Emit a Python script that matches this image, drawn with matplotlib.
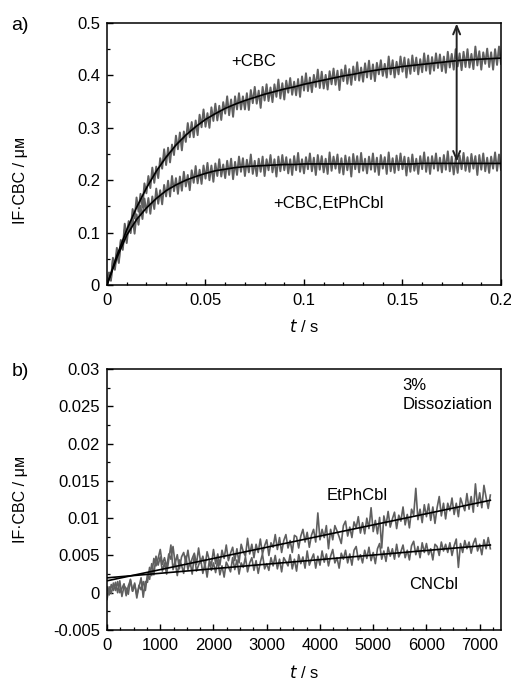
import numpy as np
import matplotlib
matplotlib.use("Agg")
import matplotlib.pyplot as plt
from matplotlib.ticker import MultipleLocator

plt.rcParams['font.family'] = ['Liberation Sans', 'DejaVu Sans']

# ---------------- panel a: stopped-flow traces (units of 1e-3 uM) ----------------
# sampled every 1 ms from 0 to 0.2 s
cbc_trace = [
    0, 23, 8, 52, 36, 71, 46, 86, 72, 117, 94, 122, 105, 145, 127, 167, 140, 174, 148, 194,
    175, 208, 185, 224, 195, 226, 204, 242, 222, 259, 229, 262, 234, 268, 248, 285, 259, 291, 257, 293,
    273, 309, 282, 311, 282, 314, 286, 325, 301, 335, 302, 328, 300, 339, 313, 346, 314, 342, 315, 349,
    327, 360, 324, 354, 321, 360, 335, 366, 335, 360, 335, 366, 334, 372, 347, 378, 346, 371, 338, 378,
    352, 383, 351, 377, 349, 383, 359, 392, 356, 385, 354, 390, 367, 395, 363, 388, 362, 393, 359, 398,
    371, 404, 370, 396, 368, 401, 378, 411, 376, 407, 375, 401, 373, 408, 383, 413, 382, 409, 372, 411,
    389, 419, 384, 412, 382, 417, 391, 425, 390, 415, 388, 423, 396, 428, 393, 421, 389, 424, 402, 429,
    399, 422, 396, 436, 402, 429, 396, 426, 402, 436, 407, 434, 396, 431, 403, 438, 408, 434, 402, 431,
    406, 442, 409, 438, 403, 435, 409, 442, 414, 440, 408, 436, 405, 445, 415, 441, 411, 450, 417, 442,
    410, 445, 416, 450, 415, 441, 412, 455, 419, 446, 411, 444, 422, 451, 416, 444, 411, 450, 420, 455,
    422]
etph_trace = [
    0, 24, 11, 47, 29, 61, 42, 83, 67, 106, 80, 113, 99, 131, 98, 135, 115, 151, 126, 165,
    138, 166, 136, 169, 145, 184, 155, 181, 154, 191, 169, 199, 169, 208, 179, 204, 174, 207, 180, 216,
    188, 210, 181, 219, 195, 227, 194, 220, 193, 228, 203, 233, 200, 228, 197, 232, 208, 240, 207, 230,
    204, 237, 210, 241, 202, 235, 210, 245, 216, 242, 208, 239, 215, 249, 212, 237, 208, 241, 216, 245,
    208, 240, 219, 248, 215, 240, 207, 245, 217, 248, 219, 244, 213, 240, 210, 246, 219, 252, 216, 240,
    213, 244, 221, 251, 217, 243, 210, 248, 220, 246, 215, 241, 212, 253, 218, 245, 222, 249, 214, 242,
    211, 247, 219, 244, 207, 250, 221, 246, 215, 252, 218, 241, 213, 245, 220, 251, 216, 243, 210, 248,
    222, 244, 212, 253, 217, 242, 214, 247, 219, 251, 221, 245, 209, 243, 216, 249, 218, 241, 212, 246,
    221, 253, 216, 244, 212, 246, 222, 251, 218, 243, 215, 248, 220, 255, 217, 245, 211, 242, 214, 247,
    221, 252, 218, 244, 216, 250, 222, 246, 210, 248, 220, 251, 217, 243, 214, 245, 222, 253, 218, 249,
    220]
# fitted curves, every 5 ms
cbc_fit = [0, 56, 105, 148, 185, 217, 244, 267, 286, 302, 316, 327, 337, 345, 352, 358, 364, 369, 374, 378,
           383, 387, 391, 395, 399, 402, 406, 409, 412, 414, 417, 419, 421, 423, 425, 427, 429, 430, 431, 432, 433]
etph_fit = [0, 52, 95, 125, 147, 165, 180, 191, 200, 207, 213, 218, 221, 224, 226, 227, 228, 229, 230, 230,
            231, 231, 231, 231, 231, 231, 231, 231, 231, 231, 231, 231, 232, 232, 232, 232, 232, 232, 232, 232, 232]

# ---------------- panel b: slow dissociation (units of 1e-4 uM, every 40 s) ----------------
etphcbl_b = [
    -9, 8, -1, 13, 3, 15, 0, 6, 12, -4, 9, 17, 2, 11, -3, 7, 20, -6,
    15, 14, 34, 23, 46, 36, 46,
    58, 38, 47, 34, 52, 45, 62, 39, 51, 32, 48, 54, 41, 57, 36, 46, 53, 38, 60, 40, 49, 35, 55, 44, 37,
    58, 39, 52, 37, 57, 46, 64, 43, 53, 61, 43, 59, 40, 65, 55, 49, 73, 52, 65, 47,
    65, 54, 72, 52, 63, 71, 50, 67, 61, 78, 58, 74, 54, 70, 78, 60, 70, 54, 77, 75,
    60, 76, 85, 68, 81, 61, 77, 85, 68, 107, 71, 85, 74, 90, 59, 85, 71, 90, 83, 75,
    66, 90, 96, 76, 88, 74, 95, 87, 102, 80, 94, 79, 100, 86, 114, 82, 97, 79, 101, 60,
    103, 90, 109, 88, 99, 108, 86, 104, 96, 115, 91, 105, 87, 112, 104, 140, 98, 112, 94, 118,
    102, 119, 97, 115, 93, 114, 129, 103, 120, 99, 120, 110, 127, 105, 120, 102, 127, 118, 110, 133,
    112, 129, 108, 146, 116, 134, 114, 144, 128, 113, 131]
cncbl_b = [
    8, -3, 11, 3, 14, 0, 16, -5, 9, 6, -2, 18, 2, 13, -7, 10, 4, 15,
    3, 25, 18, 39, 24, 49, 37,
    48, 29, 40, 25, 45, 64, 31, 42, 23, 44, 37, 26, 49, 31, 42, 25, 51, 29, 37, 45, 26, 39, 21, 42, 30,
    40, 27, 44, 24, 36, 21, 41, 35, 28, 47, 31, 44, 25, 40, 34, 48, 28, 40, 47, 30,
    43, 26, 41, 52, 32, 39, 30, 47, 36, 50, 32, 45, 28, 47, 42, 36, 51, 32, 45, 29,
    51, 39, 48, 33, 56, 37, 45, 52, 33, 49, 37, 56, 41, 52, 36, 49, 58, 40, 47, 33,
    53, 45, 57, 40, 52, 37, 57, 62, 44, 51, 40, 57, 46, 61, 43, 54, 39, 59, 66, 45,
    56, 42, 61, 49, 59, 45, 65, 48, 55, 64, 47, 57, 44, 63, 69, 51, 62, 47, 67, 54,
    66, 51, 59, 44, 65, 62, 50, 68, 56, 65, 54, 67, 50, 63, 72, 34, 66, 54, 70, 59,
    68, 53, 66, 73, 56, 65, 51, 71, 59, 74, 59]
fit_t_b = [0, 3600, 7200]
etphcbl_fit_b = [0.0016, 0.0070, 0.0124]
cncbl_fit_b = [0.0020, 0.0042, 0.0064]

xticks_a = [0, 0.05, 0.1, 0.15, 0.2]
xlabels_a = ['0', '0.05', '0.1', '0.15', '0.2']
yticks_a = [0, 0.1, 0.2, 0.3, 0.4, 0.5]
ylabels_a = ['0', '0.1', '0.2', '0.3', '0.4', '0.5']
xticks_b = [0, 1000, 2000, 3000, 4000, 5000, 6000, 7000]
xlabels_b = ['0', '1000', '2000', '3000', '4000', '5000', '6000', '7000']
yticks_b = [-0.005, 0, 0.005, 0.01, 0.015, 0.02, 0.025, 0.03]
ylabels_b = ['-0.005', '0', '0.005', '0.01', '0.015', '0.02', '0.025', '0.03']

TRACE = '#5f5f5f'
FS = 12

fig = plt.figure(figsize=(5.11, 6.84), dpi=100)
ax1 = fig.add_axes([0.2094, 0.5833, 0.7710, 0.3831])
ax2 = fig.add_axes([0.2094, 0.0789, 0.7710, 0.3816])

# --- a) ---
t_a = np.arange(len(cbc_trace)) * 0.001
tf_a = np.arange(len(cbc_fit)) * 0.005
ax1.plot(t_a, np.array(cbc_trace) / 1000, color=TRACE, lw=1.4)
ax1.plot(t_a, np.array(etph_trace) / 1000, color=TRACE, lw=1.4)
ax1.plot(tf_a, np.array(cbc_fit) / 1000, color='black', lw=1.2)
ax1.plot(tf_a, np.array(etph_fit) / 1000, color='black', lw=1.2)
ax1.annotate('', xy=(0.1775, 0.499), xytext=(0.1775, 0.235),
             arrowprops=dict(arrowstyle='<->,head_length=0.6,head_width=0.25',
                             color='#222222', lw=1.4, shrinkA=0, shrinkB=0))
ax1.text(0.0746, 0.4256, '+CBC', fontsize=FS, ha='center', va='center')
ax1.text(0.1122, 0.156, '+CBC,EtPhCbl', fontsize=FS, ha='center', va='center')
ax1.set_xlim(0, 0.2)
ax1.set_ylim(0, 0.5)
ax1.set_xticks(xticks_a, xlabels_a)
ax1.set_yticks(yticks_a, ylabels_a)
ax1.xaxis.set_minor_locator(MultipleLocator(0.01))
ax1.yaxis.set_minor_locator(MultipleLocator(0.05))
ax1.set_xlabel(r'$t$ / s', fontsize=FS)
ax1.set_ylabel('IF·CBC / μᴍ', fontsize=11.5)
ax1.xaxis.set_label_coords(0.5, -0.125)
ax1.yaxis.set_label_coords(-0.20, 0.40)

# --- b) ---
t_b = np.arange(len(etphcbl_b)) * 40
ax2.plot(t_b, np.array(etphcbl_b) * 1e-4, color=TRACE, lw=1.2)
ax2.plot(t_b, np.array(cncbl_b) * 1e-4, color=TRACE, lw=1.2)
ax2.plot(fit_t_b, etphcbl_fit_b, color='black', lw=1.2)
ax2.plot(fit_t_b, cncbl_fit_b, color='black', lw=1.2)
ax2.text(5556, 0.0288, '3%\nDissoziation', fontsize=FS, ha='left', va='top', linespacing=1.3)
ax2.text(4692, 0.0130, 'EtPhCbl', fontsize=FS, ha='center', va='center')
ax2.text(6137, 0.00117, 'CNCbl', fontsize=FS, ha='center', va='center')
ax2.set_xlim(0, 7400)
ax2.set_ylim(-0.005, 0.03)
ax2.set_xticks(xticks_b, xlabels_b)
ax2.set_yticks(yticks_b, ylabels_b)
ax2.xaxis.set_minor_locator(MultipleLocator(250))
ax2.yaxis.set_minor_locator(MultipleLocator(0.0025))
ax2.set_xlabel(r'$t$ / s', fontsize=FS)
ax2.set_ylabel('IF·CBC / μᴍ', fontsize=11.5)
ax2.xaxis.set_label_coords(0.5, -0.13)
ax2.yaxis.set_label_coords(-0.20, 0.5)

for ax in (ax1, ax2):
    for s in ax.spines.values():
        s.set_linewidth(1.1)
    ax.tick_params(which='both', direction='in', top=False, right=False, labelsize=FS)
    ax.tick_params(which='major', length=4, width=1.0)
    ax.tick_params(which='minor', length=2.5, width=0.9)
    ax.tick_params(axis='x', pad=6)
    ax.tick_params(axis='y', pad=5)

fig.text(0.022, 0.962, 'a)', fontsize=14, ha='left', va='center')
fig.text(0.022, 0.457, 'b)', fontsize=14, ha='left', va='center')

fig.savefig('out.png', dpi=100)
